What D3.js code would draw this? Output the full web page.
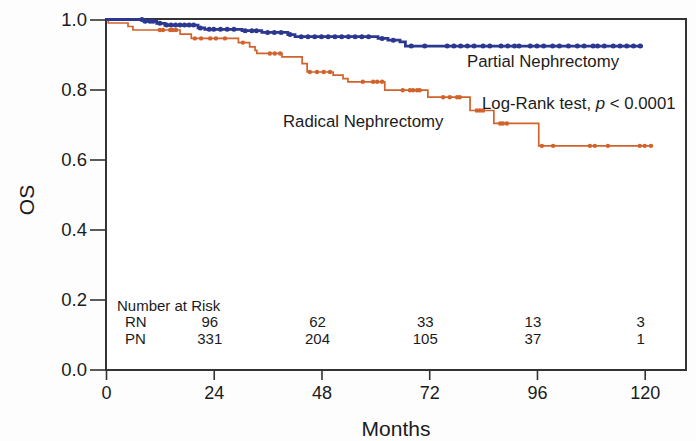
<!DOCTYPE html>
<html>
<head>
<meta charset="utf-8">
<script src="https://cdn.jsdelivr.net/npm/d3@7"></script>
<style>
  html, body { margin: 0; padding: 0; background: #fdfdfd; }
  svg { display: block; }
  text { font-family: "Liberation Sans", Arial, Helvetica, sans-serif; fill: #1b1b1b; }
</style>
</head>
<body>
<svg id="chart" width="696" height="441"></svg>
<script>
// ---- data ----
const xTicks = [0, 24, 48, 72, 96, 120];
const yTicks = [0.0, 0.2, 0.4, 0.6, 0.8, 1.0];

// Partial Nephrectomy: step times (months) and survival
const pnTimes = [0, 8.5, 11.3, 13.1, 20.5, 22.0, 30.3, 34.7, 40.5, 42.1, 60.6, 62.8, 65.5, 66.7];
const pnSurv  = [1.0, 0.995, 0.989, 0.984, 0.976, 0.972, 0.968, 0.963, 0.957, 0.951, 0.946, 0.941, 0.936, 0.924];
const pnEnd = 119.6;
const pnCensor = [8.0, 8.7, 9.8, 10.5, 12, 13.5, 14.5, 15.5, 16.5, 17.5, 18.5, 19.5, 21, 23, 24, 25.5, 27, 28.5,
  31, 32.5, 33.5, 36, 37.5, 39, 41, 43.5, 45, 46.5, 48, 49.5, 51, 52.5, 54, 55.5, 57, 58.5, 61.5, 64,
  68, 71, 76, 77.5, 79, 80.5, 82, 84, 85.5, 88, 89.5, 91, 92, 94.5, 96, 97.5, 99.5, 101, 103, 105,
  106.5, 108.5, 109.5, 111, 113, 114.5, 116, 117.5, 119];

// Radical Nephrectomy
const rnTimes = [0, 0.5, 4.9, 6.0, 16.5, 19.0, 29.5, 32.0, 33.2, 33.6, 39.2, 43.7, 44.8, 50.6, 52.8, 53.9, 62.1, 71.7, 81.1, 86.4, 96.4];
const rnSurv  = [1.0, 0.99, 0.98, 0.97, 0.958, 0.946, 0.934, 0.922, 0.912, 0.903, 0.893, 0.874, 0.850, 0.841, 0.831, 0.822, 0.798, 0.778, 0.740, 0.703, 0.639];
const rnEnd = 121.5;
const rnCensor = [12.0, 12.7, 14.3, 14.9, 15.6, 19.8, 21.2, 23.2, 24.5, 26.5, 30.5, 36.5, 37.6, 38.8,
  45.4, 47.0, 48.5, 49.9, 57.2, 59.5, 60.4, 61.5, 66.1, 67.7, 68.4, 69.3, 69.9, 75.1, 76.6, 78.2, 78.8,
  82.6, 83.3, 84.0, 87.8, 88.4, 89.3, 97.1, 99.6, 107.8, 108.9, 111.8, 118.9, 120.0, 121.4];

// Number at risk
const riskGroups = ["RN", "PN"];
const riskTimes = [24, 48, 72, 96, 120];
const riskRN = [96, 62, 33, 13, 3];
const riskPN = [331, 204, 105, 37, 1];

// ---- drawing ----
const svg = d3.select("#chart");
const L = 106, R = 686, T = 19.5, B = 369.5;
const x = d3.scaleLinear().domain([0, 129.2]).range([L, R]);
const y = d3.scaleLinear().domain([0, 1]).range([B, T]);

const blue = "#2c3890";
const orange = "#d2622b";
const ff = "'Liberation Sans', Arial, sans-serif";

function survAt(times, surv, t) {
  let s = surv[0];
  for (let i = 0; i < times.length; i++) if (times[i] <= t) s = surv[i];
  return s;
}
function stepData(times, surv, end) {
  const d = times.map((t, i) => [t, surv[i]]);
  d.push([end, surv[surv.length - 1]]);
  return d;
}
const line = d3.line().x(d => x(d[0])).y(d => y(d[1])).curve(d3.curveStepAfter);

// frame
svg.append("rect").attr("x", L).attr("y", T - 0.5).attr("width", R - L).attr("height", B - T + 1)
  .attr("fill", "#fff").attr("stroke", "#333").attr("stroke-width", 2);

// y axis
const yAxis = d3.axisLeft(y).tickValues(yTicks).tickFormat(d3.format(".1f")).tickSize(16).tickPadding(3);
const gy = svg.append("g").attr("transform", `translate(${L},0)`).call(yAxis);
gy.select(".domain").remove();
gy.selectAll(".tick line").attr("stroke", "#333").attr("stroke-width", 1.6);
gy.selectAll(".tick text").style("font-size", "18.5px").attr("fill", "#1b1b1b").style("font-family", ff);

// x axis
const xAxis = d3.axisBottom(x).tickValues(xTicks).tickSize(10).tickPadding(6);
const gx = svg.append("g").attr("transform", `translate(0,${B + 0.5})`).call(xAxis);
gx.select(".domain").remove();
gx.selectAll(".tick line").attr("stroke", "#333").attr("stroke-width", 1.6);
gx.selectAll(".tick text").style("font-size", "18px").attr("fill", "#1b1b1b").style("font-family", ff);

// curves
svg.append("path").datum(stepData(rnTimes, rnSurv, rnEnd)).attr("d", line)
  .attr("fill", "none").attr("stroke", orange).attr("stroke-width", 1.7);
svg.append("g").selectAll("circle").data(rnCensor).join("circle")
  .attr("cx", d => x(d)).attr("cy", d => y(survAt(rnTimes, rnSurv, d)))
  .attr("r", 2.2).attr("fill", orange);

svg.append("path").datum(stepData(pnTimes, pnSurv, pnEnd)).attr("d", line)
  .attr("fill", "none").attr("stroke", blue).attr("stroke-width", 2.8);
svg.append("g").selectAll("circle").data(pnCensor).join("circle")
  .attr("cx", d => x(d)).attr("cy", d => y(survAt(pnTimes, pnSurv, d)))
  .attr("r", 2.5).attr("fill", blue);

// annotations
svg.append("text").attr("x", 467).attr("y", 67).style("font-size", "16.8px").text("Partial Nephrectomy");
svg.append("text").attr("x", 283).attr("y", 127).style("font-size", "16.8px").text("Radical Nephrectomy");
const lr = svg.append("text").attr("x", 482).attr("y", 108.5).style("font-size", "16.8px");
lr.append("tspan").text("Log-Rank test, ");
lr.append("tspan").style("font-style", "italic").text("p");
lr.append("tspan").text(" < 0.0001");

// number at risk
svg.append("text").attr("x", 117).attr("y", 311).style("font-size", "15px").text("Number at Risk");
const riskRows = [riskRN, riskPN];
riskGroups.forEach((g, i) => {
  const yy = 327 + i * 16.5;
  svg.append("text").attr("x", 125).attr("y", yy).style("font-size", "15px").text(g);
  svg.append("g").selectAll("text").data(riskTimes).join("text")
    .attr("x", d => x(d) - 4).attr("y", yy).attr("text-anchor", "middle")
    .style("font-size", "15px").text((d, j) => riskRows[i][j]);
});

// axis titles
svg.append("text").attr("x", (x(0) + x(129.2)) / 2).attr("y", 436).attr("text-anchor", "middle")
  .style("font-size", "21px").text("Months");
svg.append("text").attr("transform", "translate(34,200) rotate(-90)").attr("text-anchor", "middle")
  .style("font-size", "21px").text("OS");
</script>
</body>
</html>
